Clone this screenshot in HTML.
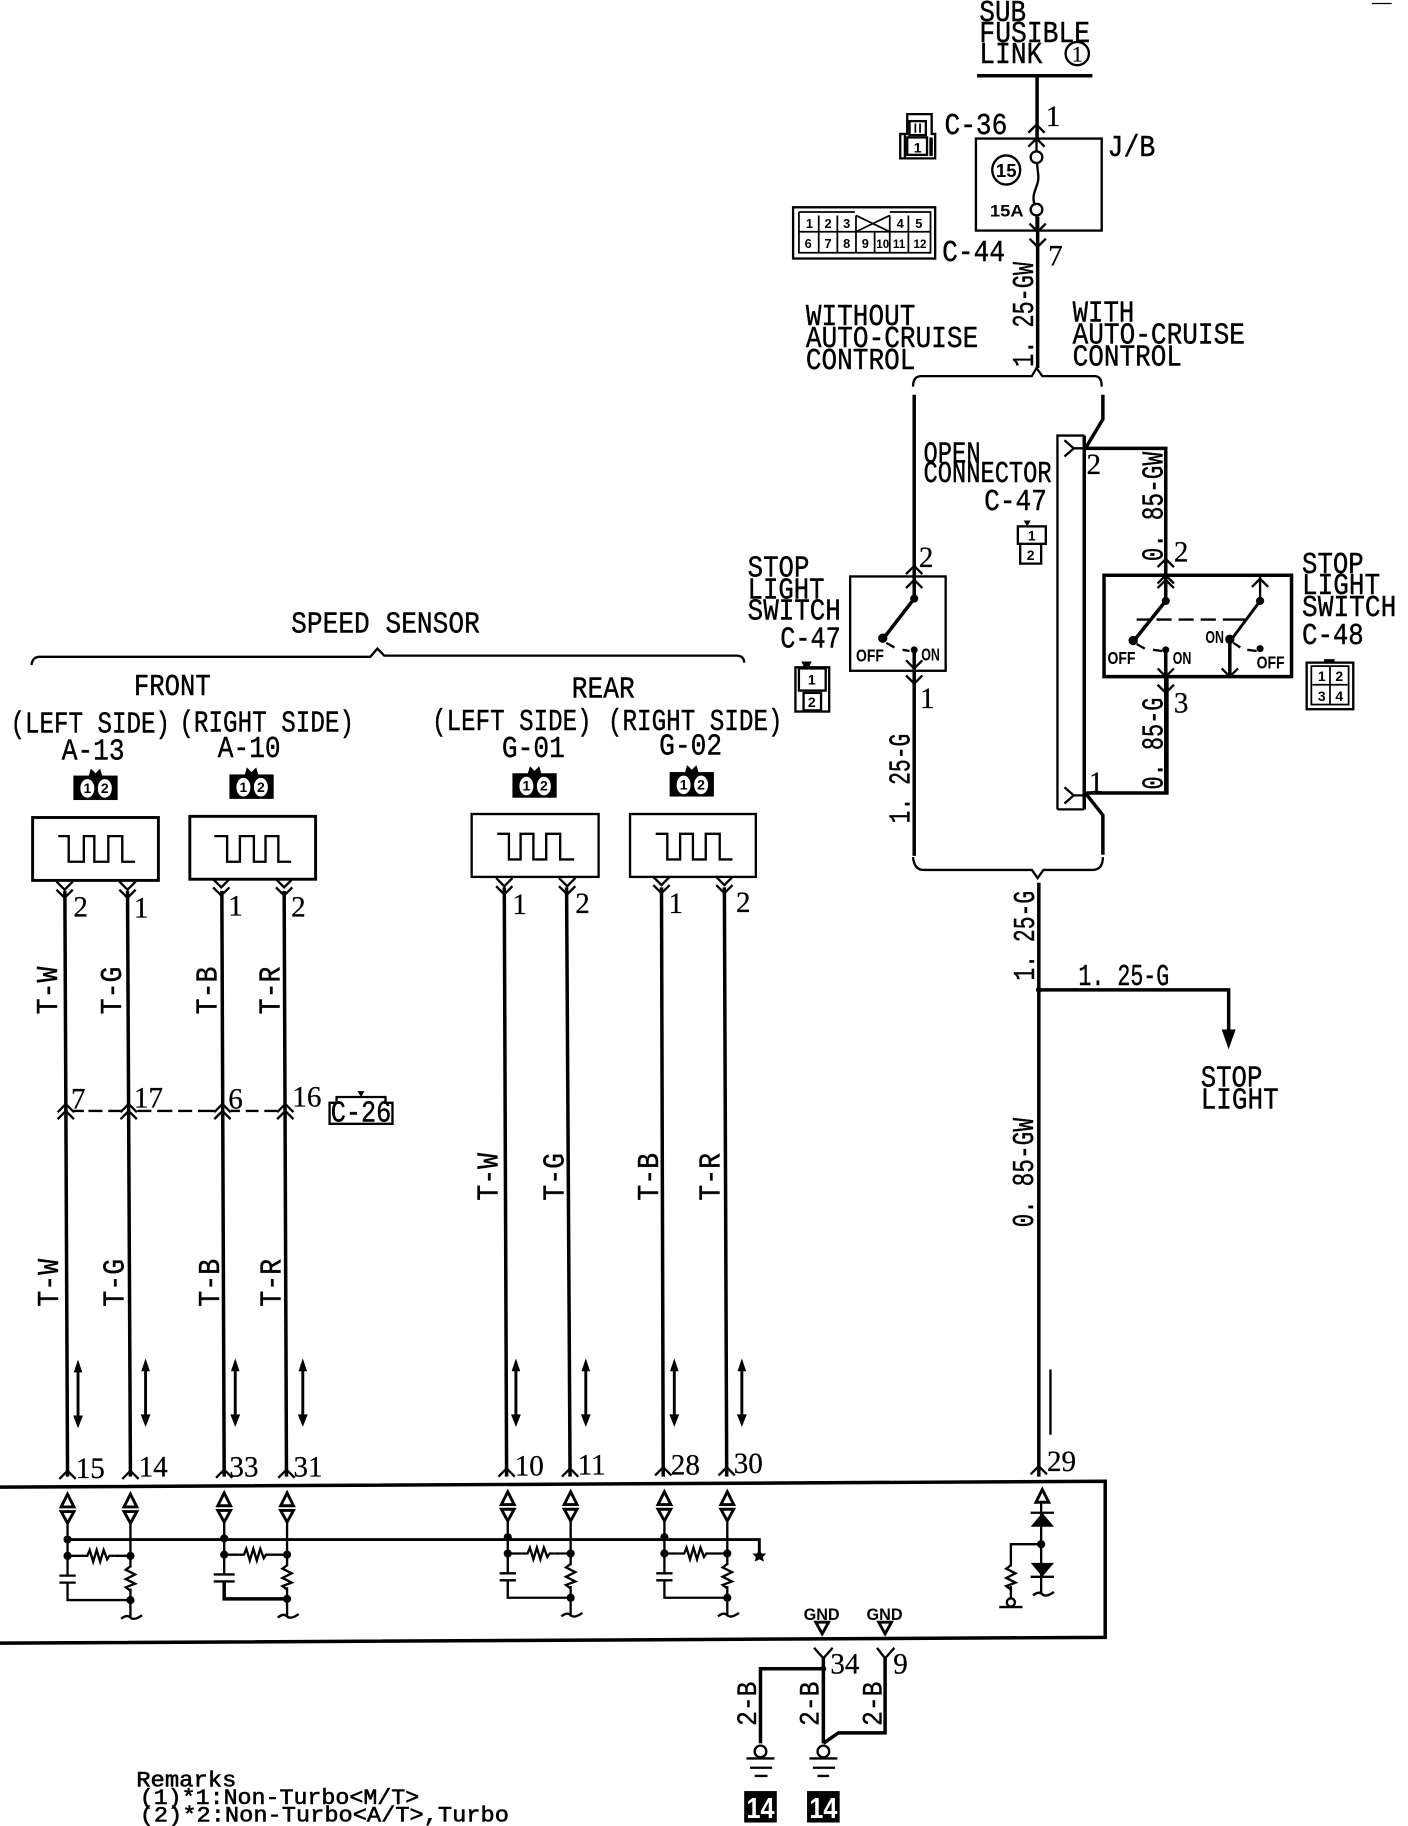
<!DOCTYPE html>
<html><head><meta charset="utf-8"><style>
html,body{margin:0;padding:0;background:#fff}
svg{display:block}
text{font-family:"Liberation Mono",monospace;font-size:26px;fill:#000;stroke:#000;stroke-width:.35}
.n text,text.n{font-family:"Liberation Serif",serif;font-size:25px;stroke-width:.2}
.b text,text.b{font-family:"Liberation Sans",sans-serif;font-weight:bold;font-size:12px;stroke:none}
.c44 text{font-family:"Liberation Sans",sans-serif;font-weight:bold;font-size:11px;stroke:none}
.c44 text.s{font-size:10px}
text.r{font-size:19px;stroke-width:.5}
.w{fill:none;stroke:#000;stroke-width:3}
.t{fill:none;stroke:#000;stroke-width:2}
.h{fill:none;stroke:#000;stroke-width:1.5}
</style></head><body>
<svg width="1408" height="1826" viewBox="0 0 1209 1568" preserveAspectRatio="none" xmlns="http://www.w3.org/2000/svg">
<rect width="1209" height="1568" fill="#fff"/>
<defs>
<path id="u" d="M-7 7L0 0L7 7" fill="none" stroke="#000" stroke-width="2"/>
<path id="d" d="M-7 -7L0 0L7 -7" fill="none" stroke="#000" stroke-width="2"/>
<g id="ar"><path d="M0 4V52" stroke="#000" stroke-width="2.5"/><path d="M-3 9L0 0L3 9ZM-3.500 47L0 56L3.500 47Z" fill="#000" stroke="#000"/></g>
<path id="pu" d="M0 0L-5.500 11H5.500Z" fill="#fff" stroke="#000" stroke-width="2.500"/>
<path id="pd" d="M0 10L-5.500 0H5.500Z" fill="#fff" stroke="#000" stroke-width="2.500"/>
<circle id="dot" r="3.500" fill="#000"/>
<path id="rh" d="M-14 0H-9L-7 -5L-4 5L-1 -5L2 5L5 -5L8 3L10 0H14" fill="none" stroke="#000" stroke-width="2"/>
<path id="rv" d="M0 -10L-4 -7L4 -3L-4 1L4 5L-4 8L0 11" fill="none" stroke="#000" stroke-width="2"/>
<path id="gt" d="M-9 1Q-4 -3 -1 0T9 -2" fill="none" stroke="#000" stroke-width="2"/>
</defs>

<!-- Top section -->
<text x="841" y="18" textLength="40" lengthAdjust="spacingAndGlyphs">SUB</text>
<text x="841" y="36" textLength="95" lengthAdjust="spacingAndGlyphs">FUSIBLE</text>
<text x="841" y="54" textLength="54" lengthAdjust="spacingAndGlyphs">LINK</text>
<circle cx="925" cy="46" r="10" class="t"/>
<text x="925" y="53" class="n" style="font-size:19px" text-anchor="middle">1</text>
<path d="M839 65H938" class="w"/>
<path d="M890.500 65V119M891 186V316" class="w"/>
<use href="#u" x="890" y="107"/><use href="#u" x="890" y="119"/>
<use href="#d" x="891" y="199"/><use href="#d" x="891" y="212"/>
<text x="898" y="108" class="n">1</text>
<rect x="838" y="119" width="108" height="79" class="t"/>
<path d="M890 119V130M890 185V199M890.500 140C891 150 893 152 890 160S887 170 888 175" class="t"/>
<circle cx="890" cy="135" r="5" fill="#fff" class="t"/>
<circle cx="890" cy="180" r="5" fill="#fff" class="t"/>
<ellipse cx="864" cy="146" rx="12" ry="12.500" class="t"/>
<text x="864" y="152" class="b" style="font-size:16px" text-anchor="middle">15</text>
<text x="850" y="186" class="b" style="font-size:14px" textLength="29" lengthAdjust="spacingAndGlyphs">15A</text>
<!-- C-36 icon -->
<path d="M777 136V115H773V136ZM773 136H803V115H800V98H779V115H773" class="t"/>
<rect x="781" y="104" width="14" height="12" class="t"/>
<path d="M786 106V114M790 106V114" class="h"/>
<rect x="779" y="118" width="17" height="15" class="t"/>
<path d="M798 118H801V134H798Z" fill="#000"/>
<text x="788" y="131" class="b" text-anchor="middle">1</text>
<text x="811" y="115" textLength="54" lengthAdjust="spacingAndGlyphs">C-36</text>
<text x="951" y="134" textLength="41" lengthAdjust="spacingAndGlyphs">J/B</text>
<!-- C-44 icon -->
<rect x="681" y="178" width="122" height="44" class="t"/>
<path d="M686 182H734M764 182H799V217H686V182" class="h"/>
<path d="M686 199H735M764 199H799M735 199H764M703 185V217M719 185V217M735 185V217M764 185V217M780 185V217M751 199V217M735 185L764 199M764 185L735 199" class="h"/>
<g class="c44" text-anchor="middle">
<text x="695" y="196">1</text><text x="711" y="196">2</text><text x="727" y="196">3</text><text x="773" y="196">4</text><text x="789" y="196">5</text>
<text x="694" y="213">6</text><text x="711" y="213">7</text><text x="727" y="213">8</text><text x="743" y="213">9</text><text x="758" y="213" class="s">10</text><text x="772" y="213" class="s">11</text><text x="790" y="213" class="s">12</text>
</g>
<text x="809" y="224" textLength="54" lengthAdjust="spacingAndGlyphs">C-44</text>
<text x="900" y="228" class="n">7</text>
<text transform="translate(887,315) rotate(-90)" textLength="90" lengthAdjust="spacingAndGlyphs">1. 25-GW</text>
<text x="692" y="279" textLength="94" lengthAdjust="spacingAndGlyphs">WITHOUT</text>
<text x="692" y="298" textLength="148" lengthAdjust="spacingAndGlyphs">AUTO-CRUISE</text>
<text x="692" y="317" textLength="94" lengthAdjust="spacingAndGlyphs">CONTROL</text>
<text x="921" y="276" textLength="53" lengthAdjust="spacingAndGlyphs">WITH</text>
<text x="921" y="295" textLength="148" lengthAdjust="spacingAndGlyphs">AUTO-CRUISE</text>
<text x="921" y="314" textLength="94" lengthAdjust="spacingAndGlyphs">CONTROL</text>
<!-- upper brace -->
<path d="M784 332Q784 323 791 323H886L890 316L895 323H940Q946 323 946 332" class="t"/>
<path d="M785 339V514M785 558V735" class="w"/>
<path d="M947 339V360L932 385H1001V494" class="w"/>
<!-- open connector -->
<path d="M908 695V374H931" class="t"/>
<path d="M908 695H931" class="t"/>
<path d="M931 374V695" class="w"/>
<path d="M914 378L922 385L914 392M922 385H932M914 676L922 683L914 690M922 683H932" class="t"/>
<text x="933" y="407" class="n">2</text>
<text x="935" y="680" class="n">1</text>
<path d="M932 681H1002V579" class="w"/>
<path d="M932 681L947 700V734" class="w"/>
<text x="793" y="397" textLength="49" lengthAdjust="spacingAndGlyphs">OPEN</text>
<text x="793" y="414" textLength="110" lengthAdjust="spacingAndGlyphs">CONNECTOR</text>
<text x="845" y="438" textLength="54" lengthAdjust="spacingAndGlyphs">C-47</text>
<!-- small C-47 -->
<path d="M882 452L879 447H885Z" fill="#000"/>
<rect x="874" y="452" width="24" height="15" class="t"/>
<path d="M876 467V484H894V467" class="t"/>
<text x="886" y="464" class="b" text-anchor="middle">1</text>
<text x="885" y="481" class="b" text-anchor="middle">2</text>
<text transform="translate(998,482) rotate(-90)" textLength="94" lengthAdjust="spacingAndGlyphs">0. 85-GW</text>
<text x="1008" y="482" class="n">2</text>
<use href="#u" x="1001" y="480"/><use href="#u" x="1001" y="494"/>
<!-- left switch -->
<rect x="730" y="495" width="82" height="81" class="t"/>
<use href="#u" x="785" y="486"/><use href="#u" x="785" y="498"/>
<text x="789" y="487" class="n">2</text>
<path d="M785 514L758 549" class="w"/>
<circle cx="785" cy="514" r="3.500"/>
<circle cx="758" cy="548" r="4"/>
<circle cx="785" cy="558" r="3"/>
<path d="M761 552L768 556M775 558L781 559" class="t"/>
<text x="735" y="568" class="b" style="font-size:15px" textLength="24" lengthAdjust="spacingAndGlyphs">OFF</text>
<text x="791" y="567" class="b" style="font-size:15px" textLength="16" lengthAdjust="spacingAndGlyphs">ON</text>
<use href="#d" x="785" y="574"/><use href="#d" x="785" y="587"/>
<text x="790" y="608" class="n">1</text>
<text transform="translate(781,707) rotate(-90)" textLength="77" lengthAdjust="spacingAndGlyphs">1. 25-G</text>
<text x="642" y="495" textLength="53" lengthAdjust="spacingAndGlyphs">STOP</text>
<text x="642" y="514" textLength="66" lengthAdjust="spacingAndGlyphs">LIGHT</text>
<text x="642" y="532" textLength="80" lengthAdjust="spacingAndGlyphs">SWITCH</text>
<text x="670" y="556" textLength="52" lengthAdjust="spacingAndGlyphs">C-47</text>
<!-- C-47 left icon -->
<path d="M691 574L688 568H697L694 574Z" fill="#000"/>
<rect x="683" y="573" width="29" height="38" class="t"/>
<rect x="686" y="574" width="23" height="19" class="t"/>
<rect x="690" y="595" width="15" height="15" class="t"/>
<text x="697" y="588" class="b" text-anchor="middle">1</text>
<text x="697" y="607" class="b" text-anchor="middle">2</text>
<!-- right switch -->
<path d="M948 494H1109V581H948Z" class="w"/>
<path d="M1001 494V516" class="w"/>
<use href="#u" x="1001" y="498"/>
<circle cx="1001" cy="516" r="3.500"/>
<path d="M1001 516L973 551" class="w"/>
<circle cx="973" cy="550" r="4"/>
<circle cx="1001" cy="558" r="3"/>
<path d="M976 553L983 557M990 558L998 559" class="t"/>
<path d="M1001 558V681" class="w"/>
<use href="#d" x="1001" y="581"/><use href="#d" x="1001" y="595"/>
<path d="M1082 494V516" class="t"/>
<use href="#u" x="1082" y="497"/>
<circle cx="1082" cy="516" r="3.500"/>
<path d="M1082 516L1056 551" class="t" style="stroke-width:2.500"/>
<circle cx="1056" cy="549" r="4"/>
<circle cx="1082" cy="557" r="3"/>
<path d="M1059 552L1065 556M1071 558L1079 559" class="t"/>
<path d="M1056 549V580" class="w"/>
<use href="#d" x="1056" y="581"/>
<path d="M976 532H987M993 532H1006M1012 532H1025M1031 532H1044M1050 532H1070" class="w" style="stroke-width:2"/>
<text x="951" y="570" class="b" style="font-size:15px" textLength="24" lengthAdjust="spacingAndGlyphs">OFF</text>
<text x="1007" y="570" class="b" style="font-size:15px" textLength="16" lengthAdjust="spacingAndGlyphs">ON</text>
<text x="1035" y="552" class="b" style="font-size:15px" textLength="16" lengthAdjust="spacingAndGlyphs">ON</text>
<text x="1079" y="574" class="b" style="font-size:15px" textLength="24" lengthAdjust="spacingAndGlyphs">OFF</text>
<text x="1008" y="612" class="n">3</text>
<text transform="translate(998,678) rotate(-90)" textLength="79" lengthAdjust="spacingAndGlyphs">0. 85-G</text>
<text x="1118" y="492" textLength="53" lengthAdjust="spacingAndGlyphs">STOP</text>
<text x="1118" y="510" textLength="67" lengthAdjust="spacingAndGlyphs">LIGHT</text>
<text x="1118" y="529" textLength="81" lengthAdjust="spacingAndGlyphs">SWITCH</text>
<text x="1118" y="553" textLength="53" lengthAdjust="spacingAndGlyphs">C-48</text>
<!-- C-48 icon -->
<path d="M1137 566H1146V569H1137Z" fill="#000"/>
<rect x="1122" y="569" width="40" height="40" class="t"/>
<rect x="1126" y="572" width="32" height="33" class="h"/>
<path d="M1127 588H1157M1142 572V605" class="h"/>
<g class="b" text-anchor="middle"><text x="1135" y="585">1</text><text x="1150" y="585">2</text><text x="1135" y="602">3</text><text x="1150" y="602">4</text></g>
<!-- lower brace -->
<path d="M784 736Q785 747 793 747H886L891 754L896 747H938Q947 747 947 736" class="t"/>
<path d="M892 758V1268" class="w"/>
<text transform="translate(888,842) rotate(-90)" textLength="77" lengthAdjust="spacingAndGlyphs">1. 25-G</text>
<path d="M892 850H1055V885" class="w"/>
<path d="M1049 884H1061L1055 901Z" fill="#000"/>
<circle cx="892" cy="850" r="2.500"/>
<text x="926" y="846" textLength="78" lengthAdjust="spacingAndGlyphs">1. 25-G</text>
<text x="1031" y="933" textLength="53" lengthAdjust="spacingAndGlyphs">STOP</text>
<text x="1031" y="952" textLength="67" lengthAdjust="spacingAndGlyphs">LIGHT</text>
<text transform="translate(887,1054) rotate(-90)" textLength="94" lengthAdjust="spacingAndGlyphs">0. 85-GW</text>
<path d="M902 1176V1232" class="t"/>

<!-- Speed sensor -->
<text x="250" y="543" textLength="162" lengthAdjust="spacingAndGlyphs">SPEED SENSOR</text>
<path d="M27 571Q28 564 34 564H318L324 557L330 563H632Q639 563 639 569" class="t"/>
<text x="115" y="597" textLength="66" lengthAdjust="spacingAndGlyphs">FRONT</text>
<text x="491" y="599" textLength="54" lengthAdjust="spacingAndGlyphs">REAR</text>
<text x="9" y="629" textLength="137" lengthAdjust="spacingAndGlyphs">(LEFT SIDE)</text>
<text x="154" y="628" textLength="150" lengthAdjust="spacingAndGlyphs">(RIGHT SIDE)</text>
<text x="371" y="627" textLength="137" lengthAdjust="spacingAndGlyphs">(LEFT SIDE)</text>
<text x="522" y="627" textLength="150" lengthAdjust="spacingAndGlyphs">(RIGHT SIDE)</text>
<text x="53" y="652" textLength="54" lengthAdjust="spacingAndGlyphs">A-13</text>
<text x="187" y="650" textLength="54" lengthAdjust="spacingAndGlyphs">A-10</text>
<text x="431" y="650" textLength="54" lengthAdjust="spacingAndGlyphs">G-01</text>
<text x="566" y="648" textLength="54" lengthAdjust="spacingAndGlyphs">G-02</text>
<!-- sensor icons -->
<g id="ic1"><path d="M76 667L78 660L82 664L86 660L88 667Z" fill="#000"/>
<rect x="63" y="666" width="38" height="21" fill="#000"/>
<ellipse cx="75" cy="677" rx="6" ry="8" fill="#fff"/><ellipse cx="90" cy="677" rx="6" ry="8" fill="#fff"/>
<text x="75" y="681" class="b" text-anchor="middle">1</text><text x="90" y="681" class="b" text-anchor="middle">2</text></g>
<use href="#ic1" x="134" y="-1"/>
<use href="#ic1" x="377" y="-2"/>
<use href="#ic1" x="512" y="-3"/>
<!-- sensors -->
<rect x="28" y="702" width="108" height="54" class="t" style="stroke-width:2.500"/>
<rect x="163" y="701" width="108" height="54" class="t" style="stroke-width:2.500"/>
<rect x="405" y="699" width="109" height="54" class="t"/>
<rect x="541" y="699" width="108" height="54" class="t"/>
<path d="M50 718H59V740H72V718H81V740H93V718H105V740H116" class="t"/>
<path d="M184 718H195V740H206V718H218V740H228V718H239V740H250" class="t"/>
<path d="M427 716H437V738H447V716H458V738H469V716H481V738H493" class="t"/>
<path d="M563 716H573V738H584V716H595V738H606V716H618V738H629" class="t"/>
<!-- wires -->
<g class="w">
<path d="M55.700 765L58 1268"/><path d="M109.500 765L112 1268"/><path d="M190.500 765L192.500 1268"/><path d="M244 765L246 1268"/>
<path d="M433 762L435 1268"/><path d="M486.500 762L489.500 1268"/><path d="M568 762L569.500 1268"/><path d="M622 762L624 1268"/>
</g>
<!-- sensor chevrons -->
<use href="#d" x="55.500" y="764"/><use href="#d" x="55.500" y="771"/>
<use href="#d" x="109.500" y="764"/><use href="#d" x="109.500" y="771"/>
<use href="#d" x="190" y="762"/><use href="#d" x="190" y="769"/>
<use href="#d" x="244" y="762"/><use href="#d" x="244" y="769"/>
<use href="#d" x="433" y="761"/><use href="#d" x="433" y="768"/>
<use href="#d" x="487" y="761"/><use href="#d" x="487" y="768"/>
<use href="#d" x="568" y="760"/><use href="#d" x="568" y="767"/>
<use href="#d" x="622" y="760"/><use href="#d" x="622" y="767"/>
<g class="n">
<text x="63" y="787">2</text><text x="115" y="788">1</text><text x="196" y="786">1</text><text x="250" y="787">2</text>
<text x="440" y="785">1</text><text x="494" y="784">2</text><text x="574" y="784">1</text><text x="632" y="783">2</text>
</g>
<!-- wire labels -->
<g>
<text transform="translate(49,871) rotate(-90)" textLength="41" lengthAdjust="spacingAndGlyphs">T-W</text>
<text transform="translate(104,871) rotate(-90)" textLength="41" lengthAdjust="spacingAndGlyphs">T-G</text>
<text transform="translate(186,871) rotate(-90)" textLength="41" lengthAdjust="spacingAndGlyphs">T-B</text>
<text transform="translate(240,871) rotate(-90)" textLength="41" lengthAdjust="spacingAndGlyphs">T-R</text>
<text transform="translate(50,1122) rotate(-90)" textLength="41" lengthAdjust="spacingAndGlyphs">T-W</text>
<text transform="translate(106,1122) rotate(-90)" textLength="41" lengthAdjust="spacingAndGlyphs">T-G</text>
<text transform="translate(188,1122) rotate(-90)" textLength="41" lengthAdjust="spacingAndGlyphs">T-B</text>
<text transform="translate(241,1122) rotate(-90)" textLength="41" lengthAdjust="spacingAndGlyphs">T-R</text>
<text transform="translate(427,1031) rotate(-90)" textLength="41" lengthAdjust="spacingAndGlyphs">T-W</text>
<text transform="translate(484,1031) rotate(-90)" textLength="41" lengthAdjust="spacingAndGlyphs">T-G</text>
<text transform="translate(565,1031) rotate(-90)" textLength="41" lengthAdjust="spacingAndGlyphs">T-B</text>
<text transform="translate(618,1031) rotate(-90)" textLength="41" lengthAdjust="spacingAndGlyphs">T-R</text>
</g>
<!-- mid connector -->
<use href="#u" x="56.500" y="948"/><use href="#u" x="56.500" y="954"/>
<use href="#u" x="110.500" y="948"/><use href="#u" x="110.500" y="954"/>
<use href="#u" x="191" y="948"/><use href="#u" x="191" y="954"/>
<use href="#u" x="245" y="948"/><use href="#u" x="245" y="954"/>
<path d="M63 954H72M76 954H88M93 954H104M118 954H130M135 954H148M153 954H165M170 954H184M198 954H206M211 954H222M227 954H238" class="t"/>
<g class="n"><text x="61" y="952">7</text><text x="115" y="951">17</text><text x="196" y="952">6</text><text x="251" y="950">16</text></g>
<path d="M283 965V947H289V942H331V947H337V965Z" class="t"/>
<path d="M307 937H313L310 942Z" fill="#000"/>
<text x="284" y="963" textLength="52" lengthAdjust="spacingAndGlyphs" style="font-size:26px">C-26</text>
<!-- bidirectional arrows -->
<use href="#ar" x="67" y="1169"/><use href="#ar" x="125" y="1168"/><use href="#ar" x="202" y="1168"/><use href="#ar" x="260" y="1168"/>
<use href="#ar" x="443" y="1168"/><use href="#ar" x="503" y="1168"/><use href="#ar" x="579" y="1168"/><use href="#ar" x="637" y="1168"/>
<!-- wire bottom numbers -->
<g class="n">
<text x="65" y="1269">15</text><text x="119" y="1268">14</text><text x="197" y="1268">33</text><text x="252" y="1268">31</text>
<text x="442" y="1267">10</text><text x="496" y="1266">11</text><text x="576" y="1266">28</text><text x="630" y="1265">30</text><text x="899" y="1263">29</text>
</g>
<g>
<use href="#u" x="58" y="1263"/><use href="#u" x="112" y="1263"/><use href="#u" x="192.500" y="1262"/><use href="#u" x="246" y="1262"/>
<use href="#u" x="435" y="1261"/><use href="#u" x="489.500" y="1261"/><use href="#u" x="569.500" y="1260"/><use href="#u" x="624" y="1260"/><use href="#u" x="892" y="1259"/>
</g>
<!-- ECU box -->
<path d="M0 1277L949 1272V1406L0 1411" class="w"/>
<!-- Bus -->
<path d="M58 1322H652V1335" class="t" style="stroke-width:2.500"/>
<path d="M652 1330L654 1334L658 1334L655 1337L656 1341L652 1339L648 1341L649 1337L646 1334L650 1334Z" fill="#000"/>
<!-- Circuit pairs -->
<g id="pair">
<use href="#pu" x="58" y="1283"/><use href="#pd" x="58" y="1298"/>
<use href="#pu" x="112" y="1283"/><use href="#pd" x="112" y="1298"/>
<path d="M58 1308V1353M58 1359V1374H112M112 1308V1389M58 1336H70" class="t"/>
<use href="#rh" x="84" y="1336"/>
<path d="M98 1336H112M51 1353H65M51 1359H65" class="t"/>
<use href="#dot" x="58" y="1322"/><use href="#dot" x="58" y="1336"/><use href="#dot" x="112" y="1336"/><use href="#dot" x="112" y="1374"/>
<path d="M112 1346V1364" stroke="#fff" stroke-width="4"/>
<use href="#rv" x="112" y="1355"/>
<use href="#gt" x="113" y="1389"/>
</g>
<g transform="translate(134.500,-1)">
<use href="#pu" x="58" y="1283"/><use href="#pd" x="58" y="1298"/>
<use href="#pu" x="112" y="1283"/><use href="#pd" x="112" y="1298"/>
<path d="M58 1308V1353M112 1308V1389M58 1336H70" class="t"/>
<path d="M58 1359V1374H112" class="w"/>
<use href="#rh" x="84" y="1336"/>
<path d="M98 1336H112M49 1353H67M49 1359H67" class="t"/>
<use href="#dot" x="58" y="1322"/><use href="#dot" x="58" y="1336"/><use href="#dot" x="112" y="1336"/><use href="#dot" x="112" y="1374"/>
<path d="M112 1346V1364" stroke="#fff" stroke-width="4"/>
<use href="#rv" x="112" y="1355"/>
<use href="#gt" x="113" y="1389"/>
</g>
<use href="#pair" x="378" y="-2"/>
<use href="#pair" x="512.500" y="-2"/>
<!-- diode block -->
<use href="#pu" x="895" y="1279"/>
<path d="M894 1290V1368M885 1299H905M885 1354H905" class="t"/>
<path d="M895 1299L885 1311H905Z" fill="#000"/>
<path d="M885 1342H905L895 1354Z" fill="#000"/>
<use href="#dot" x="894" y="1326"/>
<path d="M894 1326H868V1372M858 1380H878" class="t"/>
<path d="M868 1345V1362" stroke="#fff" stroke-width="4"/>
<use href="#rv" x="868" y="1354"/>
<circle cx="868" cy="1376" r="3.500" fill="#fff" class="t"/>
<use href="#gt" x="896" y="1369"/>
<!-- GND -->
<text x="690" y="1391" class="b" style="font-size:14px" textLength="31" lengthAdjust="spacingAndGlyphs">GND</text>
<text x="744" y="1391" class="b" style="font-size:14px" textLength="31" lengthAdjust="spacingAndGlyphs">GND</text>
<use href="#pd" x="706" y="1393"/><use href="#pd" x="760" y="1393"/>
<path d="M699 1415L707 1424L715 1415M753 1415L760 1424L768 1415" class="t"/>
<path d="M707 1423V1497M653 1497V1433H707" class="w"/>
<path d="M760 1423V1488H720L707 1497" class="w"/>
<circle cx="707" cy="1433" r="2.500"/>
<text x="713" y="1437" class="n">34</text><text x="767" y="1437" class="n">9</text>
<text transform="translate(649,1482) rotate(-90)" textLength="38" lengthAdjust="spacingAndGlyphs" style="font-size:24px">2-B</text>
<text transform="translate(703,1482) rotate(-90)" textLength="38" lengthAdjust="spacingAndGlyphs" style="font-size:24px">2-B</text>
<text transform="translate(757,1482) rotate(-90)" textLength="38" lengthAdjust="spacingAndGlyphs" style="font-size:24px">2-B</text>
<g class="t">
<circle cx="653" cy="1504" r="5"/><circle cx="707" cy="1504" r="5"/>
<path d="M641 1510H665M695 1510H719M644 1518H663M698 1518H717M648 1525H659M702 1525H712"/>
</g>
<rect x="639" y="1538" width="28" height="27" fill="#000"/>
<rect x="693" y="1538" width="28" height="27" fill="#000"/>
<text x="653" y="1561" class="b" style="font-size:25px;fill:#fff" text-anchor="middle" textLength="24" lengthAdjust="spacingAndGlyphs">14</text>
<text x="707" y="1561" class="b" style="font-size:25px;fill:#fff" text-anchor="middle" textLength="24" lengthAdjust="spacingAndGlyphs">14</text>
<!-- Remarks -->
<text x="117" y="1534" class="r" textLength="86" lengthAdjust="spacingAndGlyphs">Remarks</text>
<text x="120" y="1549" class="r" textLength="240" lengthAdjust="spacingAndGlyphs">(1)*1:Non-Turbo&lt;M/T&gt;</text>
<text x="120" y="1564" class="r" textLength="317" lengthAdjust="spacingAndGlyphs">(2)*2:Non-Turbo&lt;A/T&gt;,Turbo</text>
<path d="M1178 3H1195" class="h" style="stroke-width:1"/>
</svg>
</body></html>
